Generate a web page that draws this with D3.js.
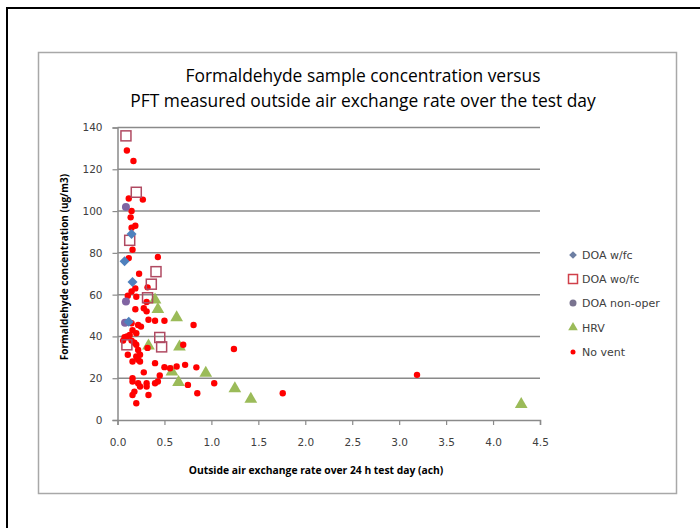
<!DOCTYPE html>
<html>
<head>
<meta charset="utf-8">
<script src="https://cdn.jsdelivr.net/npm/d3@7"></script>
<style>
  body { margin: 0; background: #fff; }
  svg { display: block; }
</style>
</head>
<body>
<svg id="chart" width="700" height="528"></svg>
<script>
// series: [air exchange rate (ach), formaldehyde (ug/m3)]
const doaWfc = [[0.15, 89], [0.075, 76], [0.16, 66], [0.12, 47]];
const doaWofc = [[0.09, 136], [0.20, 109], [0.13, 86], [0.41, 71], [0.36, 65],
    [0.32, 58.5], [0.45, 39.5], [0.47, 35], [0.10, 36]];
const doaNonOper = [[0.09, 102], [0.09, 56.7], [0.08, 46.5]];
const hrv = [[0.40, 57.5], [0.43, 53], [0.63, 49], [0.33, 35.5], [0.66, 35], [0.58, 23],
    [0.65, 18], [0.94, 22.5], [1.25, 15], [1.42, 10], [4.30, 7.5]];
const noVent = [[0.10, 129], [0.17, 124], [0.12, 106], [0.27, 105.5], [0.15, 100], [0.14, 97],
    [0.19, 93], [0.15, 92], [0.16, 81.5], [0.12, 77.5], [0.43, 78], [0.23, 70], [0.19, 63],
    [0.32, 63.5], [0.15, 61.5], [0.11, 59.5], [0.20, 59], [0.31, 56.5], [0.19, 53], [0.28, 53.5],
    [0.31, 52], [0.33, 48], [0.40, 47.5], [0.50, 47.5], [0.81, 45.5], [0.15, 46.3], [0.22, 45.5],
    [0.25, 44.7], [0.16, 43], [0.20, 41.5], [0.13, 40.7], [0.075, 39.6], [0.06, 38], [0.10, 40],
    [0.15, 38], [0.18, 37], [0.20, 36], [0.32, 34.5], [0.70, 36], [0.22, 33.5], [0.11, 31.2],
    [0.20, 30.4], [0.24, 31.2], [0.22, 28.8], [0.16, 28], [0.24, 28], [0.40, 27.2], [0.50, 25.3],
    [0.56, 24.8], [0.63, 25.6], [0.72, 26.4], [0.84, 25.2], [0.28, 22.8], [0.45, 21.3], [0.75, 16.8],
    [0.16, 20], [0.16, 18.4], [0.22, 17.6], [0.24, 16], [0.31, 17.6], [0.31, 16], [0.40, 17.6],
    [0.43, 18.4], [0.18, 13.6], [0.33, 12], [0.16, 12], [0.20, 8], [0.85, 12.8], [1.03, 17.6],
    [1.24, 34], [1.76, 12.8], [3.19, 21.6]];

const xTicks = [0, 0.5, 1, 1.5, 2, 2.5, 3, 3.5, 4, 4.5];
const yTicks = [0, 20, 40, 60, 80, 100, 120, 140];
const titleLines = ["Formaldehyde sample concentration versus",
    "PFT measured outside air exchange rate over the test day"];
const legendNames = ["DOA w/fc", "DOA wo/fc", "DOA non-oper", "HRV", "No vent"];

const svg = d3.select("#chart");

// outer frame + chart area box
svg.append("rect").attr("x", 7).attr("y", 8).attr("width", 720).attr("height", 560)
    .attr("fill", "none").attr("stroke", "#000").attr("stroke-width", 2);
svg.append("rect").attr("x", 38.5).attr("y", 52.5).attr("width", 638).attr("height", 441)
    .attr("fill", "#fff").attr("stroke", "#a8a8a8").attr("stroke-width", 1.5);

const x = d3.scaleLinear().domain([0, 4.5]).range([117.5, 540]);
const y = d3.scaleLinear().domain([0, 140]).range([420, 127.5]);

// title
svg.append("g").selectAll("text")
    .data(titleLines)
    .enter().append("text")
    .attr("x", 363).attr("y", (d, i) => 82 + i * 25)
    .attr("text-anchor", "middle")
    .attr("font-family", "Open Sans, sans-serif")
    .attr("font-size", "17.4px")
    .attr("fill", "#000")
    .text(d => d);

// gridlines
svg.append("g").selectAll("line")
    .data(yTicks.filter(d => d > 0))
    .enter().append("line")
    .attr("x1", x(0)).attr("x2", x(4.5))
    .attr("y1", d => y(d)).attr("y2", d => y(d))
    .attr("stroke", "#8a8a8a").attr("stroke-width", 1.5);

// axes
const xAxis = svg.append("g")
    .attr("transform", `translate(0,${y(0)})`)
    .call(d3.axisBottom(x).tickValues(xTicks).tickFormat(d3.format(".1f")).tickSizeOuter(0).tickSize(5).tickPadding(14));
const yAxis = svg.append("g")
    .attr("transform", `translate(${x(0)},0)`)
    .call(d3.axisLeft(y).tickValues(yTicks).tickSizeOuter(0).tickSize(5).tickPadding(10));
[xAxis, yAxis].forEach(a => {
    a.select(".domain").attr("stroke", "#8a8a8a").attr("stroke-width", 1.5);
    a.selectAll(".tick line").attr("stroke", "#8a8a8a").attr("stroke-width", 1.2);
    a.selectAll(".tick text")
        .attr("font-family", "DejaVu Sans, sans-serif")
        .attr("font-size", "10.5px")
        .attr("fill", "#404040");
});

// axis titles
svg.append("text")
    .attr("x", 316).attr("y", 474)
    .attr("text-anchor", "middle")
    .attr("font-family", "Open Sans, sans-serif")
    .attr("font-weight", "bold")
    .attr("font-size", "10.3px")
    .text("Outside air exchange rate over 24 h test day (ach)");
svg.append("text")
    .attr("transform", "translate(68,267) rotate(-90)")
    .attr("text-anchor", "middle")
    .attr("font-family", "Open Sans, sans-serif")
    .attr("font-weight", "bold")
    .attr("font-size", "10px")
    .text("Formaldehyde concentration (ug/m3)");

// markers
const plot = svg.append("g");
const sym = (type, size) => d3.symbol().type(type).size(size);

plot.selectAll(".hrv").data(hrv).enter().append("path")
    .attr("transform", d => `translate(${x(d[0])},${y(d[1])})`)
    .attr("d", sym(d3.symbolTriangle, 70))
    .attr("fill", "#9bbb59");
plot.selectAll(".nv").data(noVent).enter().append("circle")
    .attr("cx", d => x(d[0])).attr("cy", d => y(d[1])).attr("r", 3.2)
    .attr("fill", "#ff0000");
plot.selectAll(".wofc").data(doaWofc).enter().append("rect")
    .attr("x", d => x(d[0]) - 5).attr("y", d => y(d[1]) - 5)
    .attr("width", 10).attr("height", 10)
    .attr("fill", "none").attr("stroke", "#b04a62").attr("stroke-width", 1.5);
plot.selectAll(".non").data(doaNonOper).enter().append("circle")
    .attr("cx", d => x(d[0])).attr("cy", d => y(d[1])).attr("r", 4)
    .attr("fill", "#8064a2");
// diamonds: square turned 45 degrees
plot.selectAll(".wfc").data(doaWfc).enter().append("path")
    .attr("transform", d => `translate(${x(d[0])},${y(d[1])}) rotate(45)`)
    .attr("d", sym(d3.symbolSquare, 50))
    .attr("fill", "#4f81bd");

// legend
const legend = svg.append("g").attr("transform", "translate(573,0)");
const legendY = [255, 279, 303, 327.5, 352];
const items = legend.selectAll("g").data(legendNames).enter().append("g")
    .attr("transform", (d, i) => `translate(0,${legendY[i]})`);
items.append("text")
    .attr("x", 9).attr("y", 4)
    .attr("font-family", "DejaVu Sans, sans-serif")
    .attr("font-size", "11px")
    .attr("fill", "#404040")
    .text(d => d);
items.each(function (d, i) {
    const g = d3.select(this);
    if (i === 0) g.append("path").attr("transform", "rotate(45)")
        .attr("d", sym(d3.symbolSquare, 30)).attr("fill", "#6d7fa3");
    if (i === 1) g.append("rect").attr("x", -4.5).attr("y", -4.5).attr("width", 9).attr("height", 9)
        .attr("fill", "#fff").attr("stroke", "#d0404a").attr("stroke-width", 1.5);
    if (i === 2) g.append("circle").attr("r", 3.5).attr("fill", "#7a7490");
    if (i === 3) g.append("path").attr("d", sym(d3.symbolTriangle, 40)).attr("fill", "#9bbb59");
    if (i === 4) g.append("circle").attr("r", 2.5).attr("fill", "#ff0000");
});
</script>
</body>
</html>
